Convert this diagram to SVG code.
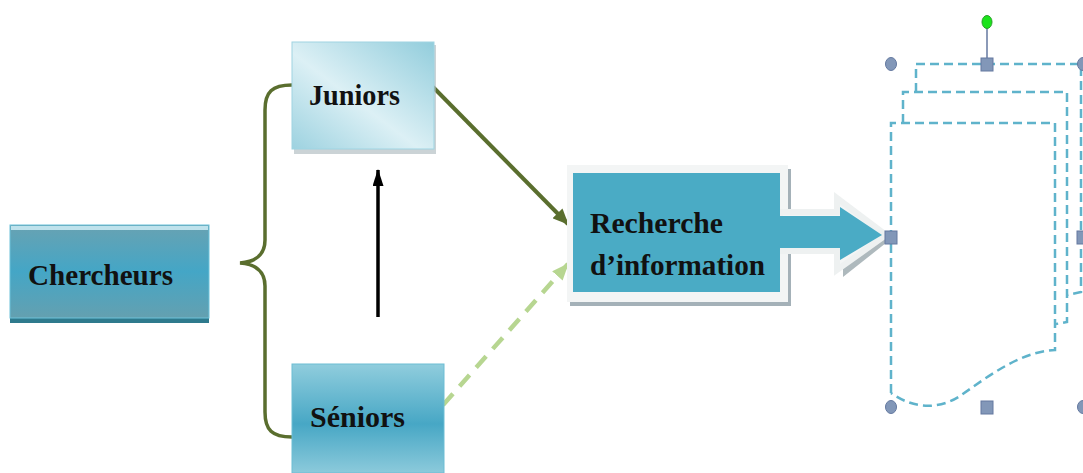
<svg xmlns="http://www.w3.org/2000/svg" width="1083" height="473" viewBox="0 0 1083 473">
<defs>
<style>
.lbl{font-family:"Liberation Serif","DejaVu Serif",serif;font-weight:bold;font-size:29px;fill:#111;}
.dash{fill:none;stroke:#5fb3cb;stroke-width:2.5;stroke-dasharray:9 5;}
.hnd{fill:#8297b8;stroke:#6479a0;stroke-width:1;}
.olive{fill:none;stroke:#5a6e2e;stroke-width:3.5;}
</style>
<linearGradient id="gCh" x1="0" y1="0" x2="0" y2="1">
<stop offset="0" stop-color="#68a2b2"/>
<stop offset="0.5" stop-color="#44a6c6"/>
<stop offset="1" stop-color="#64a0b0"/>
</linearGradient>
<linearGradient id="gJu" x1="0" y1="1" x2="1" y2="0">
<stop offset="0" stop-color="#9dd2e0"/>
<stop offset="0.45" stop-color="#dcf0f5"/>
<stop offset="1" stop-color="#92cddc"/>
</linearGradient>
<linearGradient id="gSe" x1="0" y1="0" x2="0" y2="1">
<stop offset="0" stop-color="#90cddd"/>
<stop offset="0.55" stop-color="#47a7c5"/>
<stop offset="1" stop-color="#8ccadb"/>
</linearGradient>
<marker id="mOl" viewBox="0 0 16 14" refX="15" refY="7" markerWidth="16" markerHeight="14" orient="auto" markerUnits="userSpaceOnUse">
<path d="M0,0 L16,7 L0,14 z" fill="#5a6e2e"/>
</marker>
<marker id="mLg" viewBox="0 0 17 14" refX="16" refY="7" markerWidth="17" markerHeight="14" orient="auto" markerUnits="userSpaceOnUse">
<path d="M0,0 L17,7 L0,14 z" fill="#b7d691"/>
</marker>
<marker id="mBk" viewBox="0 0 17 11" refX="16" refY="5.5" markerWidth="17" markerHeight="11" orient="auto" markerUnits="userSpaceOnUse">
<path d="M0,0 L17,5.5 L0,11 z" fill="#000"/>
</marker>
</defs>

<g id="connectors">
<path class="olive" d="M292,85 C272,85 265,92 265,110 L265,240 C265,255 255,262 240,263 C255,264 265,271 265,286 L265,412 C265,430 272,437 292,437"/>
<line x1="378" y1="317" x2="378" y2="170" stroke="#000" stroke-width="3.5" marker-end="url(#mBk)"/>
<line x1="433" y1="87" x2="568" y2="224" stroke="#5a6e2e" stroke-width="4" marker-end="url(#mOl)"/>
<line x1="443" y1="405" x2="568" y2="264" stroke="#b7d691" stroke-width="4.5" stroke-dasharray="15 10" marker-end="url(#mLg)"/>
</g>

<g id="chercheurs">
<rect x="10" y="225" width="199" height="98" fill="#2e7a8d"/>
<rect x="10" y="225" width="199" height="93" fill="url(#gCh)" stroke="#6cc2da" stroke-width="1"/>
<rect x="11" y="226" width="197" height="4" fill="#bfe2ec"/>
<text class="lbl" x="28" y="285" textLength="145" lengthAdjust="spacingAndGlyphs">Chercheurs</text>
</g>

<g id="juniors">
<rect x="294" y="45" width="142" height="109" fill="#a9b6bb" opacity="0.6"/>
<rect x="292" y="42" width="142" height="107" fill="url(#gJu)" stroke="#9fd4e2" stroke-width="1"/>
<text class="lbl" x="309" y="105" textLength="91" lengthAdjust="spacingAndGlyphs">Juniors</text>
</g>

<g id="seniors">
<rect x="292" y="364" width="152" height="109" fill="url(#gSe)" stroke="#6cbdd4" stroke-width="1"/>
<text class="lbl" x="310" y="427" textLength="95" lengthAdjust="spacingAndGlyphs">Séniors</text>
</g>

<g id="recherche">
<rect x="570" y="169" width="221" height="137" fill="#8d9ea6" opacity="0.8"/>
<path d="M786,216 L843,216 L843,202 L891,239 L843,277 L843,254 L786,254 z" fill="#9aa7ad" opacity="0.8"/>
<rect x="567" y="165" width="221" height="137" fill="#f3f5f5"/>
<path d="M780,212 L837,212 L837,198 L886,235 L837,270 L837,251 L780,251 z" fill="#f3f5f5" stroke="#eef1f1" stroke-width="6" stroke-linejoin="miter"/>
<rect x="573" y="173" width="207" height="119" fill="#4aabc5"/>
<path d="M778,216 L840,216 L840,207 L882,235 L840,260 L840,248 L778,248 z" fill="#4aabc5"/>
<text class="lbl" x="590" y="233" textLength="133" lengthAdjust="spacingAndGlyphs">Recherche</text>
<text class="lbl" x="590" y="275" textLength="175" lengthAdjust="spacingAndGlyphs">d’information</text>
</g>

<g id="document">
<path class="dash" d="M916,92 L916,64 L1081,64 L1081,292 L1067,295"/>
<path class="dash" d="M903,123 L903,92 L1067,92 L1067,322 L1056,324"/>
<path class="dash" d="M891,393 L891,123 L1055,123 L1055,350 C1020,352 990,375 960,396 C940,409 915,410 891,393"/>
<line x1="987" y1="22" x2="987" y2="64" stroke="#6479a0" stroke-width="1.5"/>
<ellipse cx="987" cy="22" rx="5" ry="6.5" fill="#1be31b" stroke="#2aa02a" stroke-width="1"/>
<ellipse class="hnd" cx="891" cy="64" rx="5.5" ry="6.5"/>
<rect class="hnd" x="981" y="58" width="12" height="13"/>
<ellipse class="hnd" cx="1083" cy="64" rx="5.5" ry="6.5"/>
<rect class="hnd" x="885" y="231" width="12" height="13"/>
<rect class="hnd" x="1077" y="231" width="12" height="13"/>
<ellipse class="hnd" cx="891" cy="407" rx="5.5" ry="6.5"/>
<rect class="hnd" x="981" y="401" width="12" height="13"/>
<ellipse class="hnd" cx="1083" cy="407" rx="5.5" ry="6.5"/>
</g>
</svg>
